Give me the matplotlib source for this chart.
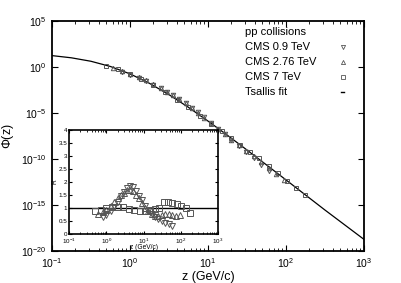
import matplotlib
matplotlib.use("Agg")
import matplotlib.pyplot as plt
import numpy as np

plt.rcParams['font.family'] = ['Liberation Sans', 'DejaVu Sans']
plt.rcParams['mathtext.fontset'] = 'custom'
plt.rcParams['mathtext.rm'] = 'Liberation Sans'
plt.rcParams['mathtext.it'] = 'Liberation Sans:italic'

# Tsallis fit curve (log10 values)
fit_logz = [-1.0, -0.75, -0.5, -0.25, 0.0, 0.25, 0.5, 0.75, 1.0, 1.25, 1.5, 1.75, 2.0, 2.5, 3.0]
fit_logphi = [1.23, 0.99, 0.615, 0.048, -0.75, -1.78, -3.01, -4.39, -5.88, -7.43, -9.03,
              -10.65, -12.28, -15.56, -18.75]

# CMS 0.9 TeV (down triangles)
z_09 = [0.8, 1.0, 1.3, 1.6, 2.0, 2.5, 3.0, 3.6, 4.3, 5.2, 6.2, 7.5, 9, 11, 13.5, 16.5,
        20, 25, 31, 39, 48, 60]
logphi_09 = [-0.581, -0.875, -1.237, -1.551, -1.916, -2.323, -2.678, -3.056, -3.463, -3.940,
             -4.419, -4.954, -5.486, -6.092, -6.729, -7.337, -7.925, -8.596, -9.258, -9.963,
             -10.621, -11.326]
r_09 = [0.68, 0.75, 0.9, 1.05, 1.25, 1.45, 1.62, 1.78, 1.85, 1.8, 1.65, 1.48, 1.3, 1.1,
        0.9, 0.78, 0.68, 0.6, 0.52, 0.45, 0.38, 0.32]

# CMS 2.76 TeV (up triangles)
z_276 = [0.6, 0.8, 1.0, 1.3, 1.6, 2.0, 2.5, 3.0, 3.6, 4.3, 5.2, 6.2, 7.5, 9, 11, 13.5,
         16.5, 20, 25, 31, 39, 48, 60, 75, 95]
logphi_276 = [-0.140, -0.484, -0.772, -1.150, -1.475, -1.873, -2.308, -2.684, -3.082, -3.500,
              -3.978, -4.455, -4.984, -5.521, -6.124, -6.739, -7.337, -7.912, -8.529, -9.105,
              -9.724, -10.309, -10.956, -11.606, -12.265]
r_276 = [0.78, 0.85, 0.95, 1.1, 1.25, 1.38, 1.5, 1.6, 1.68, 1.7, 1.65, 1.52, 1.38, 1.2,
         1.02, 0.88, 0.78, 0.7, 0.7, 0.74, 0.78, 0.78, 0.75, 0.72, 0.74]

# CMS 7 TeV (squares)
z_7 = [0.5, 0.7, 1.0, 1.4, 2.0, 2.8, 4.0, 5.6, 8, 11, 15, 20, 26, 35, 45, 60, 80, 105,
       135, 175]
logphi_7 = [0.124, -0.260, -0.750, -1.306, -1.988, -2.720, -3.569, -4.412, -5.338, -6.189,
            -7.001, -7.770, -8.483, -9.227, -9.933, -10.755, -11.585, -12.378, -13.125,
            -13.961]
r_7 = [0.88, 0.93, 1.0, 1.04, 1.06, 1.03, 0.97, 0.93, 0.9, 0.88, 0.93, 0.97, 1.0, 1.22,
       1.22, 1.19, 1.15, 1.1, 1.02, 0.82]

legend_labels = ['CMS 0.9 TeV', 'CMS 2.76 TeV', 'CMS 7 TeV', 'Tsallis fit']

mcol = '#555555'
mk = dict(ls='none', mfc='none', mec=mcol, mew=0.7, ms=3.2)
mk_in = dict(ls='none', mfc='none', mec=mcol, mew=0.7, ms=3.7)

fig = plt.figure(figsize=(4.02, 2.83), dpi=100)
ax = fig.add_axes([0.129, 0.114, 0.776, 0.812])

ax.plot(10 ** np.array(fit_logz), 10 ** np.array(fit_logphi), color='black', lw=0.9)
ax.plot(z_09, 10 ** np.array(logphi_09), marker='v', **mk)
ax.plot(z_276, 10 ** np.array(logphi_276), marker='^', **mk)
ax.plot(z_7, 10 ** np.array(logphi_7), marker='s', **mk)

ax.set_xscale('log')
ax.set_yscale('log')
ax.set_xlim(1e-1, 1e3)
ax.set_ylim(1e-20, 1e5)
ax.set_yticks([1e5, 1e0, 1e-5, 1e-10, 1e-15, 1e-20])
ax.yaxis.set_minor_locator(matplotlib.ticker.NullLocator())
ax.tick_params(which='both', direction='in', top=True, right=True, labelsize=7.5, pad=4)
ax.tick_params(which='major', length=4)
ax.tick_params(which='minor', length=2)
for s in ax.spines.values():
    s.set_linewidth(1.3)
ax.set_xlabel('z (GeV/c)', fontsize=9, labelpad=1)
ax.set_ylabel(r'$\Phi$(z)', fontsize=9, labelpad=3)

# legend, gnuplot style
ys = [0.952, 0.887, 0.822, 0.757, 0.692]
ax.text(0.619, ys[0], 'pp collisions', transform=ax.transAxes, fontsize=8, va='center')
for lab, y, m in zip(legend_labels, ys[1:], ['v', '^', 's', None]):
    ax.text(0.619, y, lab, transform=ax.transAxes, fontsize=8, va='center')
    if m:
        ax.plot([0.932], [y], marker=m, transform=ax.transAxes, clip_on=False,
                ls='none', mfc='none', mec=mcol, mew=0.6, ms=3.0)
    else:
        ax.plot([0.926, 0.938], [y, y], transform=ax.transAxes, color='black', lw=1.0)

# inset with ratios
ins = fig.add_axes([0.172, 0.172, 0.370, 0.369])
ins.axhline(1.0, color='black', lw=1.0)
ins.plot(z_09, r_09, marker='v', **mk_in)
ins.plot(z_276, r_276, marker='^', **mk_in)
ins.plot(z_7, r_7, marker='s', **mk_in)
ins.set_xscale('log')
ins.set_xlim(1e-1, 1e3)
ins.set_ylim(0, 4)
ins.set_yticks(np.arange(0, 4.01, 0.5))
ins.set_yticklabels(['0', '0.5', '1', '1.5', '2', '2.5', '3', '3.5', '4'])
ins.yaxis.set_minor_locator(matplotlib.ticker.NullLocator())
ins.tick_params(which='both', direction='in', top=True, right=True, labelsize=4.5, pad=1.5)
ins.tick_params(which='major', length=2.5)
ins.tick_params(which='minor', length=1.2)
for s in ins.spines.values():
    s.set_linewidth(1.2)
ins.set_xlabel('z (GeV/c)', fontsize=4.8, labelpad=-1)
ins.set_ylabel('R', fontsize=4.8, labelpad=0)

fig.savefig('out.png', dpi=100)
